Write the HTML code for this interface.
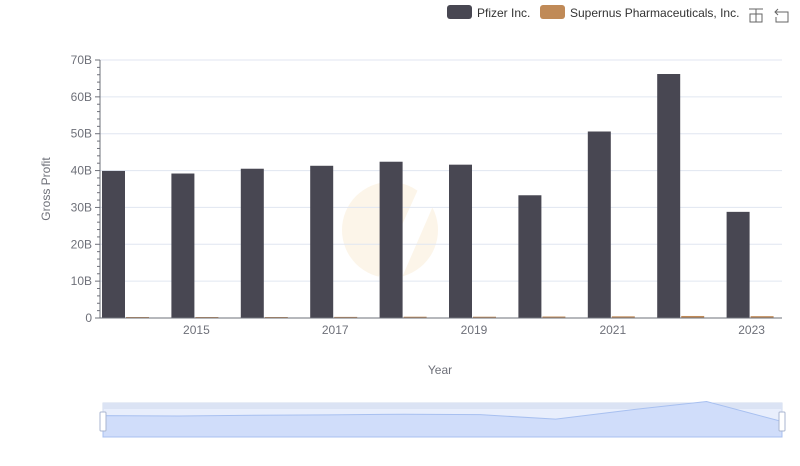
<!DOCTYPE html>
<html><head><meta charset="utf-8"><style>
body{margin:0;background:#fff;font-family:"Liberation Sans",sans-serif;}
svg text{font-family:"Liberation Sans",sans-serif;}
</style></head><body>
<svg id="c" width="800" height="461" xmlns="http://www.w3.org/2000/svg"></svg>
<script>
const years=["2014","2015","2016","2017","2018","2019","2020","2021","2022","2023"];
const pfizer=[39.9,39.2,40.5,41.3,42.4,41.6,33.3,50.6,66.2,28.8];
const supernus=[0.1,0.1,0.25,0.3,0.35,0.35,0.4,0.45,0.55,0.5];
const yTicks=[0,10,20,30,40,50,60,70];
const yTickLabels=["0","10B","20B","30B","40B","50B","60B","70B"];
const xLabelYears=["2015","2017","2019","2021","2023"];

const svg=document.getElementById('c');
const NS='http://www.w3.org/2000/svg';
function mk(t,a,p){const e=document.createElementNS(NS,t);for(const k in a)e.setAttribute(k,a[k]);(p||svg).appendChild(e);return e;}
const x0=100,x1=782,y0=318,yTop=60,step=69.4;
const yS=v=>y0-(v/70)*(y0-yTop);
const xS=i=>102+step*i;

// watermark
const wm=mk('g',{opacity:0.12});


mk('circle',{cx:390,cy:230,r:48,fill:'#e8b050'},wm);
mk('path',{d:'M378 278 L420 185 L440 190 L400 282 Z',fill:'#fff'},wm);

yTicks.forEach((v,i)=>{
  const y=yS(v);
  if(v>0){const l=mk('line',{x1:x0,x2:x1,y1:y,y2:y,stroke:'#e0e6f1'});
  
  }
  const tk=mk('line',{x1:95,x2:100,y1:y,y2:y,stroke:'#6e7079'});
  
  
  for(let m=1;m<5&&v<70;m++){const yy=y-m*(yS(0)-yS(10))/5;const mt=mk('line',{x1:97,x2:100,y1:yy,y2:yy,stroke:'#6e7079'});
  
  }
  const t=mk('text',{x:92,y:y+4,'text-anchor':'end','font-size':12,fill:'#6e7079'});
  t.textContent=yTickLabels[i];
  
  
});
const ya=mk('line',{x1:x0,x2:x0,y1:yTop,y2:y0,stroke:'#6e7079'});



years.forEach((yr,i)=>{
  const b=mk('rect',{x:xS(i),y:yS(pfizer[i]),width:23,height:y0-yS(pfizer[i]),fill:'#484752'});
  
  
  const h=Math.max(1,y0-yS(supernus[i]));
  const s=mk('rect',{x:xS(i)+24,y:y0-h,width:23,height:h,fill:'#c08a57'});
  
  
  if(xLabelYears.includes(yr)){
    const t=mk('text',{x:xS(i)-5+23/2+20-18,y:334,'text-anchor':'middle','font-size':12,fill:'#6e7079'});
    t.setAttribute('x',xS(i)+25);
    t.textContent=yr;
    
    
  }
});
const xa=mk('line',{x1:x0,x2:x1,y1:y0,y2:y0,stroke:'#6e7079'});



const yt=mk('text',{x:50,y:189,'text-anchor':'middle','font-size':12,fill:'#6e7079',transform:'rotate(-90 50 189)'});
yt.textContent='Gross Profit';


const xt=mk('text',{x:440,y:374,'text-anchor':'middle','font-size':12,fill:'#6e7079'});
xt.textContent='Year';



// legend
const lg=mk('g',{});


const l1=mk('rect',{x:447,y:5,width:25,height:14,rx:3,fill:'#484752'},lg);


const lt1=mk('text',{x:477,y:17,'font-size':12,fill:'#333'},lg);lt1.textContent='Pfizer Inc.';


const l2=mk('rect',{x:540,y:5,width:25,height:14,rx:3,fill:'#c08a57'},lg);


const lt2=mk('text',{x:570,y:17,'font-size':12,fill:'#333'},lg);lt2.textContent='Supernus Pharmaceuticals, Inc.';


// toolbox icons
const ic1=mk('path',{d:'M749 9 H763 M756 9 V22 M750 14 H762 V22 H750 Z',stroke:'#666',fill:'none'});


const ic2=mk('path',{d:'M778 9 L775 12 L778 15 M775 12 H788 V22 H776 V17',stroke:'#666',fill:'none'});



// slider
const sg=mk('g',{});


mk('rect',{x:103,y:403,width:679,height:34,fill:'#e8eefc',stroke:'#d2dbee'},sg);
mk('rect',{x:103,y:403,width:679,height:6,fill:'#dbe3f4'},sg);
let pts=[];
years.forEach((yr,i)=>{pts.push((103+679*i/9)+','+(437-pfizer[i]/70*34*0.85*1.3));});
mk('path',{d:'M103,437 L'+pts.join(' L')+' L782,437 Z',fill:'#d0ddfa',stroke:'#a8c0f0'},sg);
const h1=mk('rect',{x:100,y:412,width:6,height:19,rx:1,fill:'#fff',stroke:'#aab6d0'});


const h2=mk('rect',{x:779,y:412,width:6,height:19,rx:1,fill:'#fff',stroke:'#aab6d0'});


</script>
</body></html>
